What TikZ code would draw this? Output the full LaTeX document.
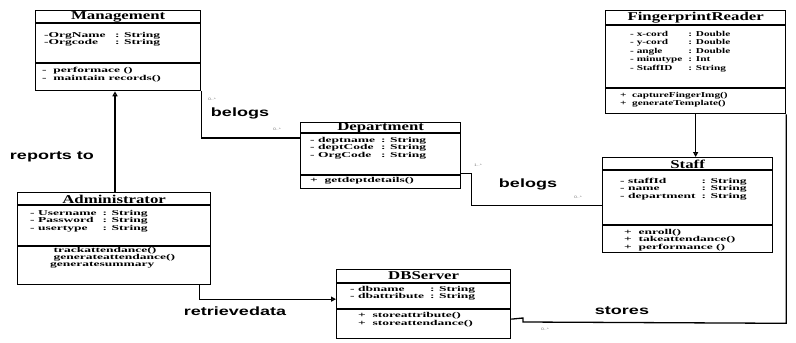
\documentclass[tikz,border=0pt]{standalone}
\usepackage{fontspec}
\setmainfont{Liberation Serif}
\newfontfamily\clsfont[FakeStretch=1.8]{Liberation Serif}
\newfontfamily\fpfont[FakeStretch=1.5]{Liberation Serif}
\newfontfamily\ttlfont[FakeStretch=1.4]{Liberation Serif}
\newfontfamily\lblfont[FakeStretch=1.5]{Liberation Sans}
\usetikzlibrary{arrows.meta,calc}
\newcommand\attrrows[1]{\begin{tabular}{@{}l@{\hspace{6pt}}l@{}}#1\end{tabular}}
\begin{document}
\begin{tikzpicture}[x=1pt,y=-1pt,
  cls/.style={draw, line width=1.3pt, anchor=north west, inner sep=0pt},
  ttl/.style={font=\ttlfont\bfseries\fontsize{12}{12}\selectfont, inner sep=0pt},
  txt/.style={font=\clsfont\bfseries\fontsize{7.5}{7}\selectfont, align=left, anchor=north west, inner sep=0pt},
  lbl/.style={font=\lblfont\bfseries\fontsize{12}{12}\selectfont, inner sep=0pt},
  mult/.style={font=\lblfont\fontsize{3.5}{4}\selectfont, text=gray, inner sep=0pt},
  conn/.style={line width=1.3pt},
  gen/.style={-{Triangle[open,length=5pt,width=5pt]}},
  divl/.style={line width=1.1pt}
]
\useasboundingbox (0,0) rectangle (796,343);

% ---------- Management ----------
\node[cls, minimum width=165, minimum height=80] (mg) at (35,10) {};
\draw[divl] ($(mg.north west)+(0,13)$) -- ($(mg.north east)+(0,13)$);
\draw[divl] ($(mg.north west)+(0,53)$) -- ($(mg.north east)+(0,53)$);
\node[ttl] (mgt) at ($(mg.north)+(0,7)$) {Management};
\node[txt] (mga) at (44,32) {\attrrows{-OrgName & \ : String\\ -Orgcode & \ : String}};
\node[txt, font=\clsfont\bfseries\fontsize{7.5}{8}\selectfont] (mgm) at (42,67) {- \ performace ()\\ - \ maintain records()};

% ---------- Department ----------
\node[cls, minimum width=160, minimum height=66] (dp) at (300,122) {};
\draw[divl] ($(dp.north west)+(0,11)$) -- ($(dp.north east)+(0,11)$);
\draw[divl] ($(dp.north west)+(0,53)$) -- ($(dp.north east)+(0,53)$);
\node[ttl] (dpt) at ($(dp.north)+(0,6)$) {Department};
\node[txt] (dpa) at (310,137) {\attrrows{- deptname & : String\\ - deptCode & : String\\ - OrgCode & : String}};
\node[txt] (dpm) at (310,177) {+ \ getdeptdetails()};

% ---------- FingerprintReader ----------
\node[cls, minimum width=180, minimum height=103] (fp) at (605,10) {};
\draw[divl] ($(fp.north west)+(0,15)$) -- ($(fp.north east)+(0,15)$);
\draw[divl] ($(fp.north west)+(0,78)$) -- ($(fp.north east)+(0,78)$);
\node[ttl] (fpt) at ($(fp.north)+(0,8)$) {FingerprintReader};
\node[txt, font=\fpfont\bfseries\fontsize{7.5}{8.5}\selectfont] (fpa) at (630,30) {\attrrows{- x-cord & : Double\\ - y-cord & : Double\\ - angle & : Double\\ - minutype & : Int\\ - StaffID & : String}};
\node[txt, font=\fpfont\bfseries\fontsize{7.5}{8}\selectfont] (fpm) at (620,92) {+ \ captureFingerImg()\\ + \ generateTemplate()};

% ---------- Staff ----------
\node[cls, minimum width=170, minimum height=95] (st) at (602,157) {};
\draw[divl] ($(st.north west)+(0,13)$) -- ($(st.north east)+(0,13)$);
\draw[divl] ($(st.north west)+(0,68)$) -- ($(st.north east)+(0,68)$);
\node[ttl] (stt) at ($(st.north)+(0,7)$) {Staff};
\node[txt] (sta) at (620,178) {\attrrows{- staffId & : String\\ - name & : String\\ - department & : String}};
\node[txt, font=\clsfont\bfseries\fontsize{7.5}{7.5}\selectfont] (stm) at (624,229) {+ \ enroll()\\ + \ takeattendance()\\ + \ performance ()};

% ---------- Administrator ----------
\node[cls, minimum width=193, minimum height=92] (ad) at (17,192) {};
\draw[divl] ($(ad.north west)+(0,13)$) -- ($(ad.north east)+(0,13)$);
\draw[divl] ($(ad.north west)+(0,54)$) -- ($(ad.north east)+(0,54)$);
\node[ttl] (adt) at ($(ad.north)+(0,7)$) {Administrator};
\node[txt] (ada) at (30,210) {\attrrows{- Username & : String\\ - Password & : String\\ - usertype & : String}};
\node[txt] (adm) at (50,247) {\ trackattendance()\\ \ generateattendance()\\ generatesummary};

% ---------- DBServer ----------
\node[cls, minimum width=174, minimum height=69] (db) at (336,269) {};
\draw[divl] ($(db.north west)+(0,14)$) -- ($(db.north east)+(0,14)$);
\draw[divl] ($(db.north west)+(0,40)$) -- ($(db.north east)+(0,40)$);
\node[ttl] (dbt) at ($(db.north)+(0,7)$) {DBServer};
\node[txt] (dba) at (350,286) {\attrrows{- dbname & : String\\ - dbattribute & : String}};
\node[txt, font=\clsfont\bfseries\fontsize{7.5}{8}\selectfont] (dbm) at (358,312) {+ \ storeattribute()\\ + \ storeattendance()};

% ---------- connectors ----------
\draw[conn, gen] ($(ad.north west)+(98,0)$) -- ($(mg.south west)+(80,0)$);
\draw[conn] (mg.south east) |- ([yshift=-16pt]dp.north west);
\draw[conn] ([yshift=-18pt]dp.east) -- ++(10,0) |- (st.west);
\draw[conn, gen] (fp.south) -- (fp.south |- st.north);
\draw[conn] (fp.south east) -- ($(fp.south east)+(0,209)$) -- (523,322) -- (523,318) -- ([yshift=-15pt]db.east);
\draw[conn, gen] ($(ad.south east)+(-12,0)$) |- ([yshift=5pt]db.west);

% ---------- labels ----------
\node[lbl] (l1) at (52,157) {reports to};
\node[lbl] (l2) at (240,113) {belogs};
\node[lbl] (l3) at (528,184) {belogs};
\node[lbl] (l4) at (235,311) {retrievedata};
\node[lbl] (l5) at (622,311) {stores};

\node[mult] (m1) at (212,99) {0..*};
\node[mult] (m2) at (277,129) {0..*};
\node[mult] (m3) at (478,165) {1..*};
\node[mult] (m4) at (578,197) {0..*};
\node[mult] (m5) at (545,329) {0..*};
\end{tikzpicture}
\end{document}
